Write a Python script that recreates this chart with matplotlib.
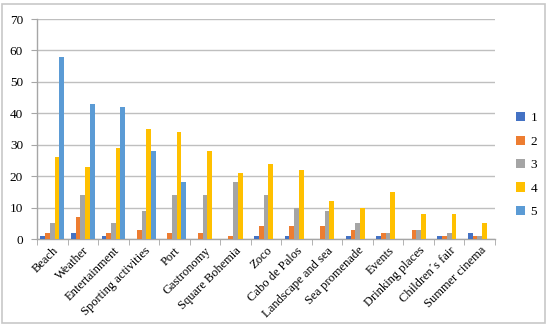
import matplotlib.pyplot as plt
import matplotlib.patches as patches
import numpy as np

categories = ['Beach', 'Weather', 'Entertainment', 'Sporting activities', 'Port',
              'Gastronomy', 'Square Bohemia', 'Zoco', 'Cabo de Palos',
              'Landscape and sea', 'Sea promenade', 'Events', 'Drinking places',
              'Children\u00b4s fair', 'Summer cinema']
s1 = [1, 2, 1, 0, 0, 0, 0, 1, 1, 0, 1, 1, 0, 1, 2]
s2 = [2, 7, 2, 3, 2, 2, 1, 4, 4, 4, 3, 2, 3, 1, 1]
s3 = [5, 14, 5, 9, 14, 14, 18, 14, 10, 9, 5, 2, 3, 2, 1]
s4 = [26, 23, 29, 35, 34, 28, 21, 24, 22, 12, 10, 15, 8, 8, 5]
s5 = [58, 43, 42, 28, 18, 0, 0, 0, 0, 0, 0, 0, 0, 0, 0]
series_names = ['1', '2', '3', '4', '5']
colors = ['#4472C4', '#ED7D31', '#A5A5A5', '#FFC000', '#5B9BD5']

plt.rcParams['font.family'] = ['Liberation Serif', 'DejaVu Serif']

fig = plt.figure(figsize=(5.5, 3.29), dpi=100)
ax = fig.add_axes([37 / 550, 1 - 239 / 329, (495 - 37) / 550, (239 - 19) / 329])

# outer frame
fig.patches.append(patches.Rectangle((2 / 550, 1 - 323 / 329), 543 / 550, 319 / 329,
                                     transform=fig.transFigure, fill=False,
                                     edgecolor='#c8c8c8', linewidth=1.2))

x = np.arange(len(categories))
w = 0.155
for i, (vals, c) in enumerate(zip([s1, s2, s3, s4, s5], colors)):
    ax.bar(x + (i - 2) * w, vals, width=w, color=c, label=series_names[i], zorder=3)

ax.set_xlim(-0.5, len(categories) - 0.5)
ax.set_ylim(0, 70)
ax.set_yticks(range(0, 71, 10))
ax.yaxis.grid(True, color='#bfbfbf', linewidth=1.0, zorder=0)
ax.set_axisbelow(True)

for s in ['top', 'right']:
    ax.spines[s].set_visible(False)
for s in ['left', 'bottom']:
    ax.spines[s].set_color('#a6a6a6')
    ax.spines[s].set_linewidth(1.0)

ax.set_xticks(x)
ax.set_xticklabels(categories, rotation=45, ha='right', rotation_mode='anchor', fontsize=9)
ax.set_xticks(np.arange(-0.5, len(categories), 1), minor=True)
ax.tick_params(axis='x', which='major', length=0, pad=4)
ax.tick_params(axis='x', which='minor', length=4, color='#a6a6a6')
ax.tick_params(axis='y', length=4, color='#a6a6a6', labelsize=9.5, pad=6)

ax.legend(loc='center left', bbox_to_anchor=(1.02, 0.336), frameon=False, fontsize=9.5,
          handlelength=0.7, handleheight=0.7, labelspacing=0.85, handletextpad=0.4)

fig.savefig('out.png', dpi=100)
